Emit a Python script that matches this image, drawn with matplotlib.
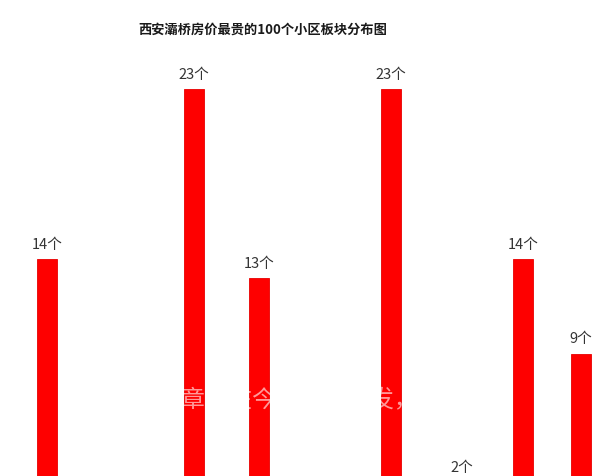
import numpy as np
import matplotlib
matplotlib.use("Agg")
import matplotlib.pyplot as plt

plt.rcParams['font.family'] = ['Noto Sans CJK SC', 'DejaVu Sans']

title = "西安灞桥房价最贵的100个小区板块分布图"
counts = [14, 23, 13, 23, 2, 14, 9]
labels = [f"{c}个" for c in counts]
watermark = "本文章仅在今日头条首发，请勿搬运"

# bar centres in pixel units of the (cropped) original picture
bar_x = [47, 193.5, 259, 391, 462, 523, 581]

fig = plt.figure(figsize=(6.15, 4.76), dpi=100)
ax = fig.add_axes([0, 0, 1, 1])
ax.set_xlim(0, 615)
# 0 sits below the visible area, the picture is cut off there
ymin = 2.54
ax.set_ylim(ymin, 27.72)
ax.axis('off')

ax.bar(bar_x, counts, width=20, color='#fe0000', edgecolor='#e80000', linewidth=0.6)

for x, v, lab in zip(bar_x, counts, labels):
    # keep the label of a bar cut off at the bottom just inside the picture
    if v < ymin + 0.3:
        y, off = ymin, 0.5
    else:
        y, off = v, 5.5
    ax.annotate(lab, (x, y), xytext=(0, off), textcoords='offset points',
                ha='center', va='bottom', fontsize=10.5, color='#333333',
                annotation_clip=False)

fig.text(263 / 615, 1 - 30 / 476, title, ha='center', va='center',
         fontsize=9.5, fontweight='bold', color='#1a1a1a')

fig.text(323 / 615, 1 - 401 / 476, watermark, ha='center', va='center',
         fontsize=17, color='white', alpha=0.6, zorder=5)

fig.savefig("out.png", dpi=100, facecolor='white')
